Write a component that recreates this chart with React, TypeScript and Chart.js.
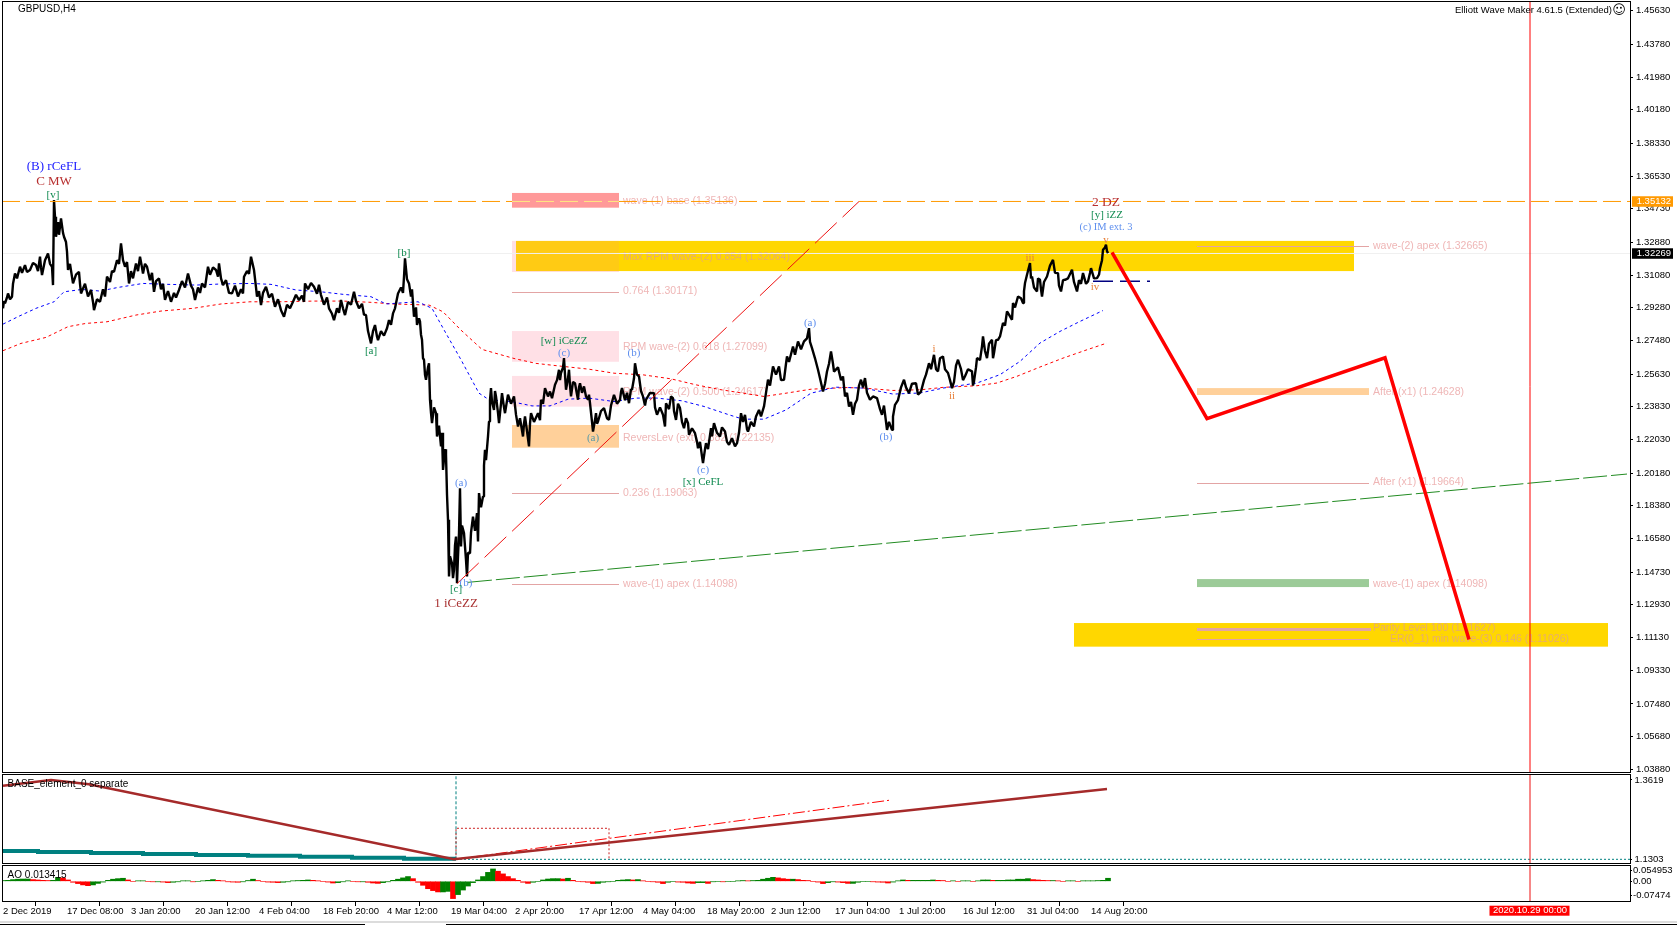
import React, { useEffect, useRef } from "react";
import { Chart, registerables } from "chart.js";

Chart.register(...registerables);

// ---------- price path (H4 GBPUSD, bar number from first bar on screen) ----------
const pathBars = [0,1,2,4,5,7,9,10,12,14,17,19,22,24,27,30,33,35,37,38,39,42,45,47,49,50,51,52,53,55,56,58,60,61,63,64,65,67,70,73,76,77,78,82,85,88,90,91,94,97,100,102,104,107,109,111,114,116,118,120,122,124,126,128,130,133,135,137,139,140,142,144,147,149,151,153,156,158,160,162,165,168,171,173,176,179,182,185,188,190,192,195,197,199,202,205,207,210,213,215,216,218,220,223,226,229,232,235,238,240,241,244,246,248,250,251,253,254,256,258,260,263,266,269,272,275,278,281,284,287,290,293,296,299,301,302,305,308,311,314,316,318,321,324,326,329,331,334,336,338,340,342,345,348,351,353,356,359,361,363,365,368,370,372,374,375,378,381,384,386,388,390,392,395,398,400,401,402,404,406,408,409,411,413,414,416,417,418,419,420,421,422,423,425,426,427,428,429,431,433,434,436,438,439,440,442,443,444,445,446,447,449,450,451,452,453,454,455,456,457,458,459,461,463,464,465,467,468,470,472,474,475,476,478,480,481,482,483,485,486,487,488,489,491,492,493,495,496,498,499,501,502,505,508,511,513,515,517,520,521,522,524,526,527,528,531,535,537,538,540,542,545,547,549,552,554,556,557,558,560,561,562,563,565,566,567,568,570,572,574,575,576,577,579,581,583,585,586,587,589,590,592,593,594,595,598,601,604,606,608,611,614,617,618,619,622,624,626,628,629,631,632,634,636,638,640,642,643,647,651,652,654,657,660,662,663,666,668,670,671,673,675,677,679,681,683,685,686,689,692,694,695,697,699,700,702,703,705,708,709,711,714,717,719,722,724,726,729,732,734,736,738,740,742,744,745,748,751,753,756,758,761,763,765,767,770,773,776,778,781,783,784,786,790,792,795,798,801,804,806,807,809,812,815,817,820,822,824,826,828,830,831,835,838,840,842,844,846,848,850,852,854,856,858,860,862,864,867,870,874,877,879,881,884,886,889,890,892,895,898,901,903,906,909,913,915,918,921,923,926,928,931,933,935,937,940,942,945,947,949,951,953,955,958,960,962,965,969,970,971,973,974,977,979,980,982,984,986,989,990,991,993,995,997,1000,1002,1004,1006,1009,1010,1012,1015,1018,1020,1021,1022,1024,1027,1028,1029,1031,1034,1035,1037,1038,1039,1041,1044,1047,1050,1052,1055,1056,1058,1060,1062,1065,1069,1071,1074,1076,1078,1080,1083,1085,1087,1088,1091,1094,1096,1097,1099,1100,1102,1103,1104,1105];
const pathPrices = [1.2925,1.2965,1.2952,1.2985,1.3007,1.2975,1.2989,1.3060,1.3117,1.3090,1.3154,1.3120,1.3163,1.3125,1.3136,1.3175,1.3163,1.3130,1.3209,1.3150,1.3108,1.3190,1.3227,1.3170,1.3154,1.3053,1.3521,1.3429,1.3319,1.3400,1.3330,1.3420,1.3340,1.3319,1.3290,1.3237,1.3136,1.3170,1.3062,1.3110,1.3126,1.3060,1.3007,1.3060,1.2990,1.3026,1.2960,1.2915,1.2975,1.2961,1.3030,1.2990,1.3099,1.3070,1.3130,1.3126,1.3190,1.3170,1.3282,1.3190,1.3154,1.3180,1.3062,1.3130,1.3090,1.3172,1.3130,1.3209,1.3150,1.3117,1.3170,1.3154,1.3080,1.3120,1.3016,1.3075,1.3090,1.3030,1.3060,1.2971,1.3020,1.2961,1.3010,1.2985,1.3026,1.3075,1.3040,1.3117,1.3050,1.3030,1.2971,1.3040,1.3010,1.3062,1.3040,1.3154,1.3110,1.3150,1.3136,1.3100,1.3172,1.3090,1.3053,1.3080,1.3010,1.3007,1.3050,1.2990,1.3030,1.3007,1.3099,1.3130,1.3115,1.3209,1.3160,1.3136,1.3040,1.2989,1.3020,1.2943,1.3010,1.3044,1.2985,1.3005,1.2934,1.2975,1.2915,1.2879,1.2945,1.2925,1.2961,1.3000,1.2970,1.2995,1.2961,1.3062,1.3030,1.3065,1.3044,1.3005,1.3055,1.2998,1.2945,1.2985,1.2925,1.2895,1.2860,1.2925,1.2900,1.2971,1.2925,1.2888,1.2960,1.2945,1.3016,1.2965,1.2925,1.2950,1.2890,1.2888,1.2800,1.2732,1.2800,1.2833,1.2770,1.2750,1.2800,1.2775,1.2815,1.2860,1.2835,1.2897,1.2925,1.3007,1.3040,1.3010,1.3099,1.3200,1.3085,1.3062,1.2990,1.3030,1.2879,1.2930,1.2834,1.2870,1.2853,1.2780,1.2752,1.2650,1.2642,1.2560,1.2532,1.2600,1.2623,1.2422,1.2350,1.2293,1.2380,1.2348,1.2220,1.2280,1.2165,1.2240,1.2036,1.2150,1.2119,1.1900,1.1761,1.1449,1.1560,1.1522,1.1440,1.1486,1.1620,1.1669,1.1412,1.1560,1.1688,1.1935,1.1614,1.1730,1.1688,1.1540,1.1449,1.1580,1.1577,1.1690,1.1779,1.1700,1.1798,1.1642,1.1908,1.1830,1.1889,1.2060,1.2146,1.2090,1.2220,1.2302,1.2420,1.2486,1.2410,1.2366,1.2470,1.2440,1.2350,1.2293,1.2400,1.2458,1.2380,1.2348,1.2450,1.2400,1.2440,1.2340,1.2275,1.2320,1.2220,1.2290,1.2330,1.2250,1.2165,1.2290,1.2348,1.2300,1.2348,1.2310,1.2422,1.2400,1.2486,1.2440,1.2467,1.2430,1.2504,1.2530,1.2587,1.2530,1.2568,1.2600,1.2651,1.2560,1.2477,1.2540,1.2587,1.2500,1.2440,1.2520,1.2513,1.2450,1.2422,1.2490,1.2513,1.2460,1.2495,1.2440,1.2422,1.2450,1.2403,1.2300,1.2247,1.2310,1.2348,1.2290,1.2302,1.2360,1.2376,1.2320,1.2311,1.2390,1.2449,1.2400,1.2422,1.2465,1.2486,1.2420,1.2460,1.2403,1.2480,1.2477,1.2540,1.2623,1.2560,1.2550,1.2470,1.2440,1.2390,1.2422,1.2460,1.2458,1.2380,1.2339,1.2380,1.2339,1.2275,1.2403,1.2370,1.2440,1.2431,1.2360,1.2311,1.2400,1.2376,1.2300,1.2265,1.2320,1.2293,1.2229,1.2265,1.2238,1.2190,1.2155,1.2190,1.2110,1.2073,1.2150,1.2183,1.2150,1.2265,1.2220,1.2293,1.2240,1.2220,1.2270,1.2247,1.2190,1.2174,1.2210,1.2165,1.2183,1.2240,1.2348,1.2300,1.2339,1.2260,1.2247,1.2300,1.2275,1.2330,1.2366,1.2330,1.2385,1.2460,1.2532,1.2500,1.2605,1.2560,1.2605,1.2530,1.2532,1.2620,1.2660,1.2630,1.2715,1.2670,1.2743,1.2700,1.2743,1.2760,1.2816,1.2740,1.2706,1.2650,1.2587,1.2540,1.2467,1.2510,1.2577,1.2620,1.2688,1.2620,1.2577,1.2600,1.2530,1.2550,1.2440,1.2460,1.2385,1.2410,1.2339,1.2400,1.2422,1.2500,1.2532,1.2490,1.2541,1.2460,1.2422,1.2440,1.2431,1.2370,1.2339,1.2390,1.2256,1.2300,1.2256,1.2330,1.2394,1.2420,1.2490,1.2532,1.2490,1.2458,1.2510,1.2513,1.2450,1.2467,1.2530,1.2560,1.2623,1.2590,1.2669,1.2590,1.2578,1.2650,1.2660,1.2590,1.2569,1.2530,1.2486,1.2520,1.2610,1.2642,1.2590,1.2530,1.2551,1.2590,1.2578,1.2500,1.2523,1.2600,1.2651,1.2640,1.2716,1.2770,1.2690,1.2651,1.2730,1.2752,1.2650,1.2679,1.2750,1.2752,1.2770,1.2844,1.2830,1.2908,1.2890,1.2862,1.2954,1.2930,1.2990,1.2980,1.2954,1.3020,1.3064,1.3110,1.3174,1.3090,1.3100,1.3040,1.3018,1.3090,1.3082,1.3030,1.2990,1.3070,1.3100,1.3160,1.3192,1.3120,1.3119,1.3050,1.3018,1.3080,1.3082,1.3090,1.3137,1.3070,1.3018,1.3080,1.3060,1.3119,1.3060,1.3073,1.3120,1.3146,1.3090,1.3091,1.3110,1.3146,1.3190,1.3247,1.3260,1.3275,1.3240,1.3229];

const blueMaBars = [0,15,33,51,61,79,97,115,140,165,193,218,247,268,293,318,340,368,383,401,415,429,443,458,476,486,508,529,547,565,586,611,633,654,679,701,726,740,761,783,808,833,861,890,917,940,974,997,1017,1037,1057,1077,1100];
const blueMaPrices = [1.2838,1.2879,1.2925,1.2961,1.3016,1.3029,1.3020,1.3040,1.3062,1.3057,1.3053,1.3059,1.3062,1.3057,1.3026,1.3016,1.3002,1.2989,1.2949,1.2956,1.2961,1.2925,1.2787,1.2642,1.2458,1.2422,1.2412,1.2388,1.2388,1.2425,1.2431,1.2412,1.2431,1.2431,1.2416,1.2385,1.2339,1.2315,1.2315,1.2366,1.2458,1.2491,1.2486,1.2453,1.2459,1.2486,1.2514,1.2560,1.2633,1.2734,1.2798,1.2853,1.2913];
const redMaBars = [0,18,43,65,83,104,133,158,190,218,247,276,311,340,368,390,426,440,458,479,511,533,554,586,611,640,668,693,718,740,761,783,808,843,861,890,918,940,974,994,1014,1037,1060,1084,1104];
const redMaPrices = [1.2692,1.2732,1.2765,1.2824,1.2842,1.2851,1.2888,1.2910,1.2925,1.2949,1.2961,1.2961,1.2965,1.2965,1.2958,1.2949,1.2943,1.2906,1.2805,1.2699,1.2649,1.2622,1.2609,1.2590,1.2568,1.2559,1.2537,1.2504,1.2477,1.2458,1.2440,1.2458,1.2480,1.2489,1.2486,1.2473,1.2477,1.2490,1.2499,1.2514,1.2551,1.2602,1.2651,1.2697,1.2734];

// ---------- projected path and trend lines ----------
const forecastBars = [1109, 1204, 1382, 1466];
const forecastPrices = [1.3233, 1.2318, 1.2653, 1.1103];
const redTrendBars = [454, 856];
const redTrendPrices = [1.14098, 1.3513];
const greenTrendBars = [465, 1624];
const greenTrendPrices = [1.1417, 1.2013];
const navyBars = [1090, 1147];
const navyPrices = [1.3074, 1.3074];
const cursorBar = 1527;
const bidPrice = 1.32269;
const askLevel = 1.35132;

// ---------- axis ----------
const priceTicks = [1.4563,1.4378,1.4198,1.4018,1.3833,1.3653,1.3473,1.3288,1.3108,1.2928,1.2748,1.2563,1.2383,1.2203,1.2018,1.1838,1.1658,1.1473,1.1293,1.1113,1.0933,1.0748,1.0568,1.0388];
const dateBars = [0,64,128,192,256,320,384,448,512,576,640,704,768,832,896,960,1024,1088];
const dateLabels = ["2 Dec 2019","17 Dec 08:00","3 Jan 20:00","20 Jan 12:00","4 Feb 04:00","18 Feb 20:00","4 Mar 12:00","19 Mar 04:00","2 Apr 20:00","17 Apr 12:00","4 May 04:00","18 May 20:00","2 Jun 12:00","17 Jun 04:00","1 Jul 20:00","16 Jul 12:00","31 Jul 04:00","14 Aug 20:00"];

// ---------- zones: first bar, last bar, top price, bottom price, colour ----------
const zones: [number, number, number, number, string][] = [
  [509, 616, 1.3560, 1.3479, "#ff9999"],
  [509, 616, 1.3296, 1.3125, "#ffe0e6"],
  [616, 1351, 1.3296, 1.3130, "#ffd700"],
  [513, 616, 1.3296, 1.3130, "#ffcb14"],
  [509, 616, 1.2800, 1.2631, "#ffe0e6"],
  [509, 616, 1.2553, 1.2384, "#ffe0e6"],
  [509, 616, 1.2283, 1.2158, "#ffd09a"],
  [1194, 1366, 1.2486, 1.2448, "#ffd09a"],
  [1194, 1366, 1.1435, 1.1391, "#9ccb98"],
  [1071, 1605, 1.1193, 1.1063, "#ffd700"],
];

// ---------- level lines: first bar, last bar, price, width ----------
const levelLines: [number, number, number, number][] = [
  [509, 616, 1.30171, 1],
  [509, 616, 1.19063, 1],
  [509, 616, 1.14098, 1],
  [1194, 1366, 1.32665, 1],
  [1194, 1366, 1.19664, 1],
  [1194, 1368, 1.11627, 3],
  [1194, 1366, 1.11026, 1],
];

// ---------- level captions: text, bar, price, colour ----------
const paleCaption = "#efb6b6";
const goldCaption = "#e8ae6a";
const levelCaptions: [string, number, number, string][] = [
  ["wave-(1) base (1.35136)", 620, 1.35136, paleCaption],
  ["Max RPM wave-(2) 0.854 (1.32064)", 620, 1.32064, goldCaption],
  ["0.764 (1.30171)", 620, 1.30171, paleCaption],
  ["RPM wave-(2) 0.618 (1.27099)", 620, 1.27099, paleCaption],
  ["RPM wave-(2) 0.500 (1.24617)", 620, 1.24617, paleCaption],
  ["ReversLev (ext) 0.382 (1.22135)", 620, 1.22135, paleCaption],
  ["0.236 (1.19063)", 620, 1.19063, paleCaption],
  ["wave-(1) apex (1.14098)", 620, 1.14098, paleCaption],
  ["wave-(2) apex (1.32665)", 1370, 1.32665, paleCaption],
  ["After (x1) (1.24628)", 1370, 1.24628, paleCaption],
  ["After (x1) (1.19664)", 1370, 1.19664, paleCaption],
  ["wave-(1) apex (1.14098)", 1370, 1.14098, paleCaption],
  ["Parity Level 100 (1.11627)", 1370, 1.11627, goldCaption],
  ["ER(0_1) min wave-(3) 0.146 (1.11026)", 1387, 1.11026, goldCaption],
];

// ---------- wave labels: text, bar, price, colour, font px ----------
const waveLabels: [string, number, number, string, number][] = [
  ["(B) rCeFL", 51, 1.3703, "#2222ff", 13],
  ["C MW", 51, 1.3622, "#b83030", 13],
  ["[v]", 50, 1.3549, "#108a50", 11],
  ["[b]", 401, 1.3231, "#108a50", 11],
  ["[a]", 368, 1.2692, "#108a50", 11],
  ["[w] iCeZZ", 561, 1.2747, "#108a50", 11],
  ["(c)", 561, 1.2681, "#5f8fee", 11],
  ["(b)", 631, 1.2679, "#5f8fee", 11],
  ["(a)", 590, 1.2213, "#5a9aa8", 11],
  ["(c)", 700, 1.2035, "#5f8fee", 11],
  ["[x] CeFL", 700, 1.1971, "#108a50", 11],
  ["(a)", 807, 1.2846, "#5f8fee", 11],
  ["(b)", 883, 1.2218, "#5f8fee", 11],
  ["i", 931, 1.2701, "#e8803a", 11],
  ["ii", 949, 1.2442, "#e8803a", 11],
  ["(a)", 458, 1.1965, "#5f8fee", 11],
  ["(b)", 463, 1.1415, "#5f8fee", 11],
  ["[c]", 453, 1.1379, "#108a50", 11],
  ["1 iCeZZ", 453, 1.1302, "#a83030", 13],
  ["iii", 1027, 1.3204, "#e8803a", 11],
  ["v", 1103, 1.3301, "#e8803a", 11],
  ["iv", 1092, 1.3044, "#e8803a", 11],
  ["2 DZ", 1103, 1.3508, "#b83030", 13.5],
  ["[y] iZZ", 1104, 1.3437, "#108a50", 11],
  ["(c) IM ext. 3", 1103, 1.3371, "#5f8fee", 10.5],
];

// ---------- BASE_element_0 separate panel ----------
const baseBars = [0, 48, 86, 451, 1104];
const baseValues = [1.3452, 1.3619, 1.3493, 1.13, 1.3356];
const tealBars = [0, 35, 88, 140, 193, 245, 297, 349, 401, 453];
const tealValues = [1.1543, 1.1514, 1.1485, 1.1455, 1.1426, 1.1406, 1.1376, 1.1347, 1.1317, 1.1317];
const signalBars = [453, 888];
const signalValues = [1.1303, 1.3034];
const baseBoxBars = [453, 606];
const baseBoxValues = [1.2207, 1.13];
const baseTicks = [1.3619, 1.1303];

// ---------- AO panel, one value per 5 bars ----------
const aoStep = 5;
const aoValues = [.004,.005,.009,.011,.012,.012,.009,.007,.005,.004,.005,.021,.018,.007,-.005,-.012,-.019,-.023,-.019,-.011,-.004,.005,.011,.014,.016,.007,0,.002,.002,0,-.002,-.002,-.004,-.007,-.005,-.002,.002,.002,-.002,0,.002,.005,.009,.005,.002,-.002,-.004,-.005,-.002,.004,.011,.004,0,-.004,-.005,-.007,-.005,-.002,.002,.004,.005,.007,.005,.002,0,-.004,-.009,-.007,-.002,.002,0,-.002,-.002,-.005,-.009,-.011,-.007,-.002,.005,.011,.018,.025,.014,-.005,-.021,-.039,-.049,-.056,-.056,-.053,-.091,-.070,-.046,-.025,-.007,.007,.025,.047,.065,.053,.039,.025,.014,.005,-.005,-.011,-.005,0,.007,.012,.014,.014,.012,.016,.005,0,-.002,-.005,-.012,-.011,-.005,-.002,0,.005,.007,.009,.007,.009,.002,0,-.002,-.005,-.012,-.005,0,-.004,-.005,-.009,-.011,-.007,-.007,-.011,-.002,0,-.002,0,0,.002,.004,.002,.004,.005,.011,.016,.021,.018,.014,.011,.011,.009,.005,.004,0,-.004,-.012,-.007,-.002,-.004,-.007,-.011,-.011,-.005,0,0,-.002,-.004,-.005,-.009,-.004,.002,.007,.005,.005,.005,.005,.005,.007,.005,.004,0,.002,0,.002,.002,0,.002,.007,.007,.005,.005,.005,.007,.007,.011,.011,.014,.009,.007,.005,.004,.004,.002,0,.002,.002,0,.002,.002,.002,.004,.005,.016];
const aoTicks = [0.054953, 0, -0.07474];
const aoTickLabels = ["0.054953", "0.00", "-0.07474"];

// ---------- texts ----------
const symbolTitle = "GBPUSD,H4";
const makerTitle = "Elliott Wave Maker 4.61.5 (Extended)";
const baseTitle = "BASE_element_0 separate";
const aoTitle = "AO 0.013415";
const cursorDate = "2020.10.29 00:00";

// ---------- helpers ----------
const W = 1677;
const xMin = -1;
const xMax = 1627;
const SANS = "'Liberation Sans', Arial, sans-serif";
const zip = (xs: number[], ys: number[]) => xs.map((x, i) => ({ x, y: ys[i] }));
const line = (data: any[], color: string, width: number, dash: number[] = [], extra: any = {}) => ({
  type: "line",
  data,
  borderColor: color,
  borderWidth: width,
  borderDash: dash,
  pointRadius: 0,
  tension: 0,
  fill: false,
  ...extra,
});
const flat = (a: number, b: number, v: number) => [{ x: a, y: v }, { x: b, y: v }];

const noPadding = (s: any) => {
  s.paddingTop = 0;
  s.paddingBottom = 0;
  s.paddingLeft = 0;
  s.paddingRight = 0;
};

const xHidden = { type: "linear", min: xMin, max: xMax, display: false, offset: false };

const framePlugin = {
  id: "frame",
  afterDraw(c: any) {
    const a = c.chartArea;
    const g = c.ctx;
    g.save();
    g.strokeStyle = "#000";
    g.lineWidth = 1;
    g.strokeRect(a.left + 0.5, a.top + 0.5, a.right - a.left, a.bottom - a.top);
    g.restore();
  },
};

const text = (g: any, s: string, x: number, y: number, font: string, color: string, align = "left") => {
  g.font = font;
  g.fillStyle = color;
  g.textAlign = align;
  g.textBaseline = "middle";
  g.fillText(s, x, y);
};

const mainPlugin = {
  id: "mainMarks",
  beforeDatasetsDraw(c: any) {
    const g = c.ctx;
    const X = c.scales.x;
    const Y = c.scales.y;
    g.save();
    zones.forEach(([a, b, top, bottom, color]) => {
      const x0 = X.getPixelForValue(a);
      const y0 = Y.getPixelForValue(top);
      g.fillStyle = color;
      g.fillRect(x0, y0, X.getPixelForValue(b) - x0, Y.getPixelForValue(bottom) - y0);
    });
    levelLines.forEach(([a, b, p, w]) => {
      g.strokeStyle = "#e3a4a4";
      g.lineWidth = w;
      g.beginPath();
      const y = Math.round(Y.getPixelForValue(p)) + 0.5;
      g.moveTo(X.getPixelForValue(a), y);
      g.lineTo(X.getPixelForValue(b), y);
      g.stroke();
    });
    levelCaptions.forEach(([s, b, p, color]) => {
      text(g, s, X.getPixelForValue(b), Y.getPixelForValue(p), `10.5px ${SANS}`, color);
    });
    g.restore();
  },
  afterDatasetsDraw(c: any) {
    const g = c.ctx;
    const X = c.scales.x;
    const Y = c.scales.y;
    g.save();
    waveLabels.forEach(([s, b, p, color, size]) => {
      text(g, s, X.getPixelForValue(b), Y.getPixelForValue(p), `${size}px 'Liberation Serif', serif`, color, "center");
    });
    text(g, symbolTitle, 18, 9.5, `10px ${SANS}`, "#000");
    text(g, makerTitle, 1612, 10.7, `9.5px ${SANS}`, "#000", "right");
    text(g, "\u263A", 1619, 10.7, "13px 'DejaVu Sans'", "#000", "center");
    g.restore();
  },
  afterDraw(c: any) {
    const g = c.ctx;
    const Y = c.scales.y;
    g.save();
    [[bidPrice, "#000"], [askLevel, "#ff9900"]].forEach(([p, color]: any) => {
      const y = Y.getPixelForValue(p);
      g.fillStyle = color;
      g.fillRect(1632, y - 5.2, 41, 10.5);
      text(g, p.toFixed(5), 1636.7, y, `9.5px ${SANS}`, "#fff");
    });
    g.restore();
  },
};

const windowPlugin = {
  id: "windowMarks",
  afterDraw(c: any) {
    const g = c.ctx;
    const X = c.scales.x;
    g.save();
    const x = X.getPixelForValue(cursorBar);
    g.fillStyle = "#ff0000";
    g.fillRect(x - 40.5, 41.7, 80, 10);
    text(g, cursorDate, x, 46.7, `9.5px ${SANS}`, "#fff", "center");
    g.fillStyle = "#dcdcdc";
    g.fillRect(0, 57, W, 2);
    g.fillStyle = "#000";
    g.fillRect(0, 60, 365, 1);
    g.fillRect(446, 60, W - 446, 1);
    g.restore();
  },
};

const titlePlugin = (id: string, s: string, y: number) => ({
  id,
  afterDatasetsDraw(c: any) {
    const g = c.ctx;
    g.save();
    text(g, s, 7.6, y, `10px ${SANS}`, "#000");
    g.restore();
  },
});

const rightAxis = (min: number, max: number, ticks: number[], fmt: (v: number, i: number) => string, tickLength: number, padding: number) => ({
  type: "linear",
  position: "right",
  min,
  max,
  afterBuildTicks: (s: any) => {
    s.ticks = ticks.map((value) => ({ value }));
  },
  afterFit: (s: any) => {
    s.width = W - 1630;
    noPadding(s);
  },
  grid: { drawOnChartArea: false, drawTicks: true, tickLength, color: "#000" },
  border: { display: false },
  ticks: {
    autoSkip: false,
    padding,
    color: "#000",
    font: { family: SANS, size: 9.5 },
    callback: (v: number, i: number) => fmt(v, i),
  },
});

const baseOptions = (padding: any, scales: any) => ({
  responsive: false,
  animation: false,
  devicePixelRatio: 1,
  layout: { autoPadding: false, padding },
  plugins: { legend: { display: false }, tooltip: { enabled: false }, title: { display: false } },
  scales,
});

function cvs(top: number, height: number) {
  return { position: "absolute" as const, left: 0, top, width: W, height, display: "block" };
}

export default function App() {
  const a = useRef<HTMLCanvasElement>(null);
  const b = useRef<HTMLCanvasElement>(null);
  const d = useRef<HTMLCanvasElement>(null);

  useEffect(() => {
    const mainMin = 1.03732;
    const mainMax = 1.46164;
    const main = new Chart(a.current as any, {
      type: "line",
      data: {
        datasets: [
          line([{ x: cursorBar, y: mainMin }, { x: cursorBar, y: mainMax }], "#ff0000", 1),
          line(zip(forecastBars, forecastPrices), "#ff0000", 3.5),
          line(zip(redTrendBars, redTrendPrices), "#ee1111", 1, [30, 8]),
          line(zip(greenTrendBars, greenTrendPrices), "#228b22", 1, [24, 4]),
          line(zip(navyBars, navyPrices), "#000080", 1.3, [20, 7]),
          line(flat(xMin, 509, askLevel), "#ff9900", 1, [18, 6]),
          line(flat(509, 616, askLevel), "#ffe680", 1, [18, 6]),
          line(flat(616, xMax, askLevel), "#ff9900", 1, [18, 6]),
          line(zip(pathBars, pathPrices), "#000", 2.4, [], { borderJoinStyle: "bevel" }),
          line(zip(blueMaBars, blueMaPrices), "#0000ff", 1, [3, 3]),
          line(zip(redMaBars, redMaPrices), "#ff0000", 1, [3, 3]),
          line(flat(xMin, xMax, bidPrice), "#f0f0f0", 1),
        ] as any,
      },
      options: baseOptions({ left: 2, top: 1, right: 0, bottom: 1 }, {
        x: xHidden,
        y: rightAxis(mainMin, mainMax, priceTicks, (v) => v.toFixed(5), 3, 3),
      }) as any,
      plugins: [mainPlugin, framePlugin],
    });

    const baseMin = 1.11921;
    const baseMax = 1.37944;
    const base = new Chart(b.current as any, {
      type: "line",
      data: {
        datasets: [
          line([{ x: cursorBar, y: baseMin }, { x: cursorBar, y: baseMax }], "#ee1111", 1),
          line(zip(baseBars, baseValues), "#a52a2a", 2.5),
          line(zip(signalBars, signalValues), "#ff0000", 1, [12, 3, 2, 3]),
          line(
            [
              { x: baseBoxBars[0], y: baseBoxValues[1] },
              { x: baseBoxBars[0], y: baseBoxValues[0] },
              { x: baseBoxBars[1], y: baseBoxValues[0] },
              { x: baseBoxBars[1], y: baseBoxValues[1] },
            ],
            "#cc2222",
            1,
            [2, 2]
          ),
          line([{ x: tealBars[tealBars.length - 1], y: baseBoxValues[1] }, { x: tealBars[tealBars.length - 1], y: baseMax }], "#008080", 1, [3, 2]),
          line(flat(tealBars[tealBars.length - 1], xMax, baseBoxValues[1]), "#008080", 1, [2, 2]),
          line(zip(tealBars, tealValues), "#008080", 4, [], { stepped: "before" }),
        ] as any,
      },
      options: baseOptions({ left: 2, top: 1, right: 0, bottom: 1 }, {
        x: xHidden,
        y: rightAxis(baseMin, baseMax, baseTicks, (v) => v.toFixed(4), 2, 2.5),
      }) as any,
      plugins: [framePlugin, titlePlugin("baseTitle", baseTitle, 11)],
    });

    const aoMin = -0.1037;
    const aoMax = 0.0858;
    const aoPoints = aoValues.map((y, i) => ({ x: i * aoStep, y }));
    const ao = new Chart(d.current as any, {
      type: "bar",
      data: {
        datasets: [
          line([{ x: cursorBar, y: aoMin }, { x: cursorBar, y: aoMax }], "#ee1111", 1),
          {
            type: "bar",
            data: aoPoints,
            barThickness: aoStep,
            backgroundColor: aoValues.map((v, i) => (i > 0 && v < aoValues[i - 1] ? "#ff0000" : "#008000")),
            borderWidth: 0,
          },
        ] as any,
      },
      options: baseOptions({ left: 2, top: 1, right: 0, bottom: 0 }, {
        x: {
          type: "linear",
          min: xMin,
          max: xMax,
          offset: false,
          position: "bottom",
          afterBuildTicks: (s: any) => {
            s.ticks = dateBars.map((value) => ({ value }));
          },
          afterFit: (s: any) => {
            s.height = 24;
            noPadding(s);
          },
          grid: { drawOnChartArea: false, drawTicks: true, tickLength: 5, color: "#000" },
          border: { display: false },
          ticks: {
            autoSkip: false,
            maxRotation: 0,
            minRotation: 0,
            align: "start",
            padding: 0,
            color: "#000",
            font: { family: SANS, size: 9.5 },
            callback: (_v: number, i: number) => dateLabels[i],
          },
        },
        y: rightAxis(aoMin, aoMax, aoTicks, (_v, i) => aoTickLabels[i], 2, 1),
      }) as any,
      plugins: [framePlugin, windowPlugin, titlePlugin("aoTitle", aoTitle, 11)],
    });

    return () => {
      main.destroy();
      base.destroy();
      ao.destroy();
    };
  }, []);

  return (
    <div style={{ position: "fixed", left: 0, top: 0, width: W, height: 925, background: "#fff", overflow: "hidden" }}>
      <canvas ref={a} width={W} height={773} style={cvs(0, 773)} />
      <canvas ref={b} width={W} height={91} style={cvs(773, 91)} />
      <canvas ref={d} width={W} height={61} style={cvs(864, 61)} />
    </div>
  );
}
